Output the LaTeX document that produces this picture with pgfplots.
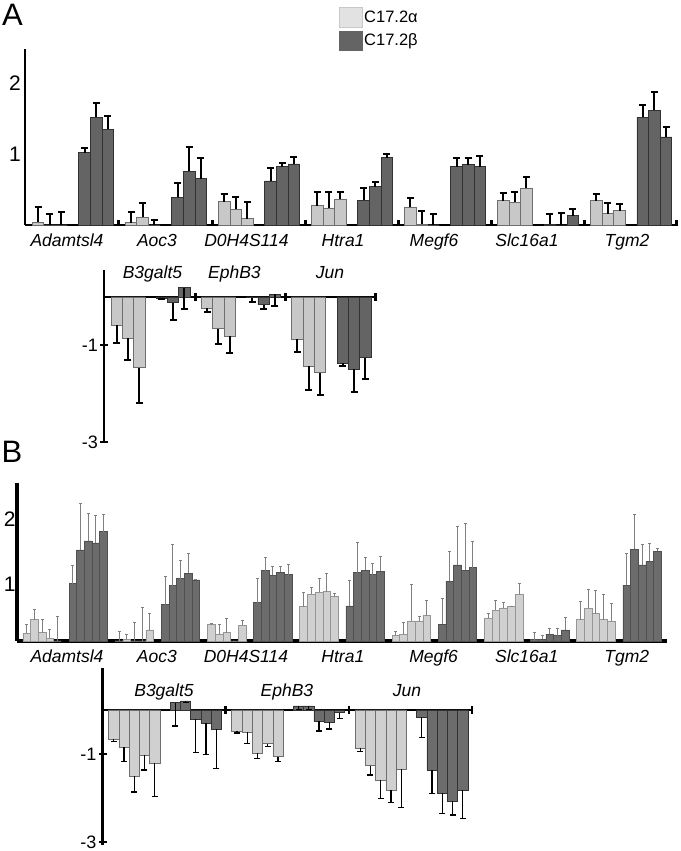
\documentclass[border=0pt]{standalone}
\usepackage{fontspec}
\setmainfont{Liberation Sans}
\usepackage{pgfplots}
\pgfplotsset{compat=1.18}
\definecolor{lbA}{RGB}{200,200,200}
\definecolor{leA}{RGB}{110,110,110}
\definecolor{dbA}{RGB}{100,100,100}
\definecolor{deA}{RGB}{50,50,50}
\definecolor{lbB}{RGB}{208,208,208}
\definecolor{leB}{RGB}{150,150,150}
\definecolor{dbB}{RGB}{108,108,108}
\definecolor{deB}{RGB}{80,80,80}
\definecolor{legL}{RGB}{226,226,226}
\definecolor{legLe}{RGB}{200,200,200}
\definecolor{legD}{RGB}{100,100,100}
\pgfplotsset{
  base/.style={scale only axis, clip=false, anchor=south west,
    /pgf/number format/assume math mode=true,
    axis line style={-}, enlargelimits=false},
  barA/.style={ybar, bar width=1, bar shift=0pt, line width=0.8pt},
}
\newcommand{\genefont}{\fontsize{17.5}{17.5}\selectfont\itshape}
\begin{document}
\begin{tikzpicture}
% Panel letters
\node[font=\fontsize{31}{31}\selectfont] at (12.5pt,836.5pt) {A};
\node[font=\fontsize{31}{31}\selectfont] at (12pt,399pt) {B};
% Legend
\filldraw[fill=legL, draw=legLe, line width=0.6pt] (339pt,824pt) rectangle (362pt,844pt);
\filldraw[fill=legD, draw=legD, line width=0.6pt] (339pt,801pt) rectangle (362pt,820pt);
\node[anchor=west, inner sep=1pt, font=\fontsize{16.5}{16.5}\selectfont] at (363pt,834pt) {C17.2α};
\node[anchor=west, inner sep=1pt, font=\fontsize{16.5}{16.5}\selectfont] at (363pt,810pt) {C17.2β};

% ===== Panel A upper =====
\begin{axis}[base, at={(25pt,626pt)}, width=653pt, height=176pt,
  xmin=-1.12, xmax=55.03, ymin=0, ymax=2.48,
  axis x line*=bottom, axis y line*=left,
  axis line style={line width=2.8pt},
  xtick={6.96,14.96,22.96,30.96,38.96,46.96,54.9}, xticklabels={},
  tick align=inside, major tick length=5pt,
  xtick style={line width=3pt, black},
  ytick={1,2}, ytick style={draw=none},
  yticklabel style={font=\fontsize{21}{21}\selectfont, inner sep=0pt, xshift=-4pt},
  error bars/y dir=plus, error bars/y explicit,
  error bars/error bar style={line width=2pt, black},
  error bars/error mark options={line width=2pt, mark size=3.5pt, black, rotate=90},
]
\addplot[barA, fill=lbA, draw=leA] coordinates {
(0,0.04) +- (0,0.22) (1,0) +- (0,0.15) (2,0) +- (0,0.19)
(8,0.03) +- (0,0.16) (9,0.11) +- (0,0.20) (10,0) +- (0,0.07)
(16,0.33) +- (0,0.10) (17,0.22) +- (0,0.18) (18,0.09) +- (0,0.24)
(24,0.27) +- (0,0.19) (25,0.24) +- (0,0.22) (26,0.36) +- (0,0.10)
(32,0.25) +- (0,0.13) (33,0.01) +- (0,0.19) (34,0) +- (0,0.16)
(40,0.34) +- (0,0.11) (41,0.32) +- (0,0.14) (42,0.52) +- (0,0.16)
(48,0.34) +- (0,0.09) (49,0.16) +- (0,0.15) (50,0.20) +- (0,0.09)
};
\addplot[barA, fill=dbA, draw=deA] coordinates {
(4,1.02) +- (0,0.06) (5,1.52) +- (0,0.20) (6,1.35) +- (0,0.18)
(12,0.39) +- (0,0.20) (13,0.76) +- (0,0.34) (14,0.65) +- (0,0.30)
(20,0.62) +- (0,0.18) (21,0.82) +- (0,0.05) (22,0.86) +- (0,0.10)
(28,0.35) +- (0,0.17) (29,0.54) +- (0,0.07) (30,0.95) +- (0,0.05)
(36,0.82) +- (0,0.13) (37,0.85) +- (0,0.10) (38,0.82) +- (0,0.15)
(44,0.01) +- (0,0.14) (45,0) +- (0,0.17) (46,0.13) +- (0,0.09)
(52,1.52) +- (0,0.17) (53,1.62) +- (0,0.25) (54,1.24) +- (0,0.14)
};
\foreach \xx/\lab in {2.49/Adamtsl4,10.23/Aoc3,17.92/D0H4S114,26.23/Htra1,34.05/Megf6,42.05/Slc16a1,50.64/Tgm2}{
  \edef\temp{\noexpand\node[anchor=base, inner sep=0pt, font=\noexpand\genefont] at (axis cs:\xx,-0.30) {\lab};}
  \temp
}
\end{axis}

% ===== Panel A lower =====
\begin{axis}[base, at={(104pt,409pt)}, width=272.6pt, height=172pt,
  xmin=-1.12, xmax=23.0, ymin=-3.0, ymax=0.557,
  axis x line*=middle, axis y line*=left,
  axis line style={line width=2.8pt},
  xtick={6.96,14.96,22.9}, xticklabels={},
  tick align=center, major tick length=8pt,
  xtick style={line width=3pt, black},
  ytick={-1,-3}, ytick style={line width=2pt, black},
  yticklabel style={font=\fontsize{18}{18}\selectfont, inner sep=0pt, xshift=-2pt},
  error bars/y dir=minus, error bars/y explicit,
  error bars/error bar style={line width=2pt, black},
  error bars/error mark options={line width=2pt, mark size=3.5pt, black, rotate=90},
]
\addplot[barA, fill=lbA, draw=leA] coordinates {
(0,-0.59) +- (0,0.37) (1,-0.85) +- (0,0.46) (2,-1.46) +- (0,0.73)
(8,-0.23) +- (0,0.09) (9,-0.66) +- (0,0.31) (10,-0.81) +- (0,0.34)
(16,-0.88) +- (0,0.25) (17,-1.43) +- (0,0.49) (18,-1.57) +- (0,0.46)
};
\addplot[barA, fill=dbA, draw=deA] coordinates {
(4,-0.03) +- (0,0.02) (5,-0.12) +- (0,0.36) (6,0.19) +- (0,0.44)
(12,-0.02) +- (0,0.08) (13,-0.16) +- (0,0.10) (14,0.06) +- (0,0.25)
(20,-1.37) +- (0,0.05) (21,-1.50) +- (0,0.47) (22,-1.26) +- (0,0.44)
};
\node[anchor=base, inner sep=0pt, font=\genefont] at (axis cs:3.17,0.39) {B3galt5};
\node[anchor=base, inner sep=0pt, font=\genefont] at (axis cs:10.42,0.39) {EphB3};
\node[anchor=base, inner sep=0pt, font=\genefont] at (axis cs:18.88,0.39) {Jun};
\end{axis}

% ===== Panel B upper =====
\begin{axis}[base, at={(16.7pt,210pt)}, width=650pt, height=158pt,
  xmin=-1.3, xmax=83.2, ymin=0, ymax=2.43,
  axis x line*=bottom, axis y line*=left,
  axis line style={line width=4pt},
  xtick=\empty,
  ytick={0.87,1.87}, yticklabels={1,2}, ytick style={draw=none},
  yticklabel style={font=\fontsize{21}{21}\selectfont, inner sep=0pt, xshift=-1pt},
  error bars/y dir=plus, error bars/y explicit,
  error bars/error bar style={line width=0.9pt, black!50},
  error bars/error mark options={line width=0.9pt, mark size=1.5pt, black!50, rotate=90},
]
\addplot[ybar, bar width=1, bar shift=0pt, line width=0.6pt, fill=lbB, draw=leB] coordinates {
(0,0.12) +- (0,0.13) (1,0.33) +- (0,0.16) (2,0.13) +- (0,0.20) (3,0.04) +- (0,0.14) (4,0) +- (0,0.38)
(12,0) +- (0,0.15) (13,0.02) +- (0,0.08) (14,0) +- (0,0.29) (15,0) +- (0,0.51) (16,0.17) +- (0,0.26)
(24,0.25) +- (0,0.02) (25,0.11) +- (0,0.15) (26,0.13) +- (0,0.22) (27,0) +- (0,0) (28,0.24) +- (0,0.07)
(36,0.53) +- (0,0.21) (37,0.72) +- (0,0.11) (38,0.75) +- (0,0.21) (39,0.76) +- (0,0.28) (40,0.68) +- (0,0.05)
(48,0.09) +- (0,0.06) (49,0.10) +- (0,0.19) (50,0.31) +- (0,0.56) (51,0.31) +- (0,0.06) (52,0.39) +- (0,0.24)
(60,0.35) +- (0,0.08) (61,0.47) +- (0,0.16) (62,0.51) +- (0,0.08) (63,0.53) +- (0,0) (64,0.72) +- (0,0.16)
(72,0.33) +- (0,0.28) (73,0.50) +- (0,0.29) (74,0.42) +- (0,0.36) (75,0.33) +- (0,0.38) (76,0.31) +- (0,0.26)
};
\addplot[ybar, bar width=1, bar shift=0pt, line width=0.6pt, fill=dbB, draw=deB] coordinates {
(6,0.88) +- (0,0.28) (7,1.40) +- (0,0.72) (8,1.54) +- (0,0.42) (9,1.51) +- (0,0.42) (10,1.68) +- (0,0.26)
(18,0.56) +- (0,0.43) (19,0.85) +- (0,0.64) (20,0.96) +- (0,0.28) (21,1.04) +- (0,0.30) (22,0.94) +- (0,0)
(30,0.59) +- (0,0.37) (31,1.08) +- (0,0.20) (32,1.01) +- (0,0.13) (33,1.06) +- (0,0.08) (34,1.02) +- (0,0.16)
(42,0.54) +- (0,0.39) (43,1.05) +- (0,0.47) (44,1.09) +- (0,0.20) (45,1.02) +- (0,0.18) (46,1.07) +- (0,0.23)
(54,0.26) +- (0,0.40) (55,0.92) +- (0,0.45) (56,1.17) +- (0,0.59) (57,1.09) +- (0,0.72) (58,1.13) +- (0,0.40)
(66,0.02) +- (0,0.11) (67,0.03) +- (0,0.06) (68,0.10) +- (0,0.09) (69,0.08) +- (0,0.11) (70,0.17) +- (0,0.19)
(78,0.86) +- (0,0.48) (79,1.41) +- (0,0.53) (80,1.17) +- (0,0.32) (81,1.23) +- (0,0.27) (82,1.38) +- (0,0.05)
};
\foreach \xx/\lab in {5.24/Adamtsl4,16.93/Aoc3,28.5/D0H4S114,41.1/Htra1,52.9/Megf6,65.0/Slc16a1,78.0/Tgm2}{
  \edef\temp{\noexpand\node[anchor=base, inner sep=0pt, font=\noexpand\genefont] at (axis cs:\xx,-0.33) {\lab};}
  \temp
}
\end{axis}

% ===== Panel B lower =====
\begin{axis}[base, at={(102.7pt,6pt)}, width=370pt, height=177pt,
  xmin=-1.07, xmax=34.96, ymin=-3.03, ymax=0.94,
  axis x line*=middle, axis y line*=left,
  axis line style={line width=2.8pt},
  xtick={10.9,22.9,34.9}, xticklabels={},
  tick align=center, major tick length=8pt,
  xtick style={line width=2.5pt, black},
  ytick={-1,-2.97}, yticklabels={-1,-3}, ytick style={line width=2pt, black},
  yticklabel style={font=\fontsize{18}{18}\selectfont, inner sep=0pt, xshift=-2pt},
  error bars/y dir=minus, error bars/y explicit,
  error bars/error bar style={line width=1.3pt, black},
  error bars/error mark options={line width=1.3pt, mark size=3pt, black, rotate=90},
]
\addplot[ybar, bar width=1, bar shift=0pt, line width=0.6pt, fill=lbB, draw=leA] coordinates {
(0,-0.65) +- (0,0.06) (1,-0.84) +- (0,0.32) (2,-1.48) +- (0,0.36) (3,-1.01) +- (0,0.34) (4,-1.20) +- (0,0.75)
(12,-0.47) +- (0,0.05) (13,-0.50) +- (0,0.26) (14,-0.97) +- (0,0.12) (15,-0.76) +- (0,0.06) (16,-1.05) +- (0,0.11)
(24,-0.86) +- (0,0.08) (25,-1.25) +- (0,0.21) (26,-1.57) +- (0,0.42) (27,-1.80) +- (0,0.28) (28,-1.33) +- (0,0.86)
};
\addplot[ybar, bar width=1, bar shift=0pt, line width=0.6pt, fill=dbB, draw=deA] coordinates {
(6,0.16) +- (0,0.52) (7,0.20) +- (0,0.04) (8,-0.21) +- (0,0.75) (9,-0.30) +- (0,0.70) (10,-0.43) +- (0,0.88)
(18,0.09) +- (0,0.08) (19,0.09) +- (0,0.08) (20,-0.26) +- (0,0.21) (21,-0.28) +- (0,0.15) (22,-0.06) +- (0,0.13)
(30,-0.16) +- (0,0.46) (31,-1.35) +- (0,0.52) (32,-1.87) +- (0,0.45) (33,-2.04) +- (0,0.32) (34,-1.80) +- (0,0.63)
};
\node[anchor=base, inner sep=0pt, font=\genefont] at (axis cs:4.9,0.31) {B3galt5};
\node[anchor=base, inner sep=0pt, font=\genefont] at (axis cs:16.87,0.31) {EphB3};
\node[anchor=base, inner sep=0pt, font=\genefont] at (axis cs:28.56,0.31) {Jun};
\end{axis}
\pgfresetboundingbox
\useasboundingbox (0,0) rectangle (680pt,851pt);
\end{tikzpicture}
\end{document}
